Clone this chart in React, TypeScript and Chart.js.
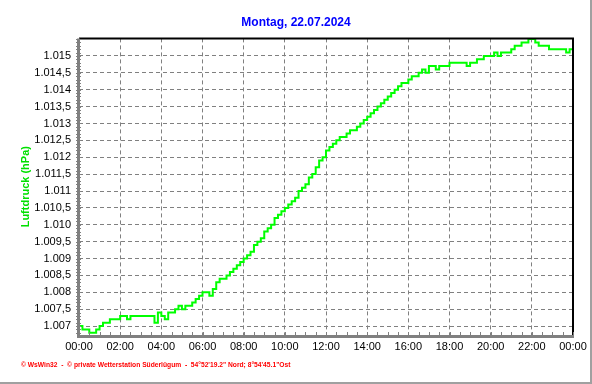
import React, { useEffect, useRef } from 'react';
import { Chart, registerables } from 'chart.js';

Chart.register(...registerables);

// minutes since midnight
const times: number[] = [
  0, 10, 20, 30, 40, 50,
  60, 70, 80, 90, 100, 110,
  120, 130, 140, 150, 160, 170,
  180, 190, 200, 210, 220, 230,
  240, 250, 260, 270, 280, 290,
  300, 310, 320, 330, 340, 350,
  360, 370, 380, 390, 400, 410,
  420, 430, 440, 450, 460, 470,
  480, 490, 500, 510, 520, 530,
  540, 550, 560, 570, 580, 590,
  600, 610, 620, 630, 640, 650,
  660, 670, 680, 690, 700, 710,
  720, 730, 740, 750, 760, 770,
  780, 790, 800, 810, 820, 830,
  840, 850, 860, 870, 880, 890,
  900, 910, 920, 930, 940, 950,
  960, 970, 980, 990, 1000, 1010,
  1020, 1030, 1040, 1050, 1060, 1070,
  1080, 1090, 1100, 1110, 1120, 1130,
  1140, 1150, 1160, 1170, 1180, 1190,
  1200, 1210, 1220, 1230, 1240, 1250,
  1260, 1270, 1280, 1290, 1300, 1310,
  1320, 1330, 1340, 1350, 1360, 1370,
  1380, 1390, 1400, 1410, 1420, 1430,
  1440,
];

// Luftdruck in hPa
const pressure: number[] = [
  1007.0, 1006.9, 1006.9, 1006.8, 1006.8, 1006.9,
  1007.0, 1007.1, 1007.1, 1007.2, 1007.2, 1007.2,
  1007.3, 1007.3, 1007.2, 1007.3, 1007.3, 1007.3,
  1007.3, 1007.3, 1007.3, 1007.3, 1007.1, 1007.4,
  1007.3, 1007.2, 1007.4, 1007.4, 1007.5, 1007.6,
  1007.5, 1007.6, 1007.6, 1007.7, 1007.8, 1007.9,
  1008.0, 1008.0, 1007.9, 1008.1, 1008.3, 1008.4,
  1008.4, 1008.5, 1008.6, 1008.7, 1008.8, 1008.9,
  1009.0, 1009.1, 1009.2, 1009.4, 1009.5, 1009.6,
  1009.8, 1009.9, 1010.0, 1010.2, 1010.3, 1010.4,
  1010.5, 1010.6, 1010.7, 1010.8, 1011.0, 1011.1,
  1011.2, 1011.4, 1011.5, 1011.7, 1011.9, 1012.0,
  1012.2, 1012.3, 1012.4, 1012.5, 1012.6, 1012.6,
  1012.7, 1012.8, 1012.8, 1012.9, 1013.0, 1013.1,
  1013.2, 1013.3, 1013.4, 1013.5, 1013.6, 1013.7,
  1013.8, 1013.9, 1014.0, 1014.1, 1014.2, 1014.2,
  1014.3, 1014.4, 1014.4, 1014.5, 1014.6, 1014.5,
  1014.7, 1014.7, 1014.6, 1014.7, 1014.7, 1014.7,
  1014.8, 1014.8, 1014.8, 1014.8, 1014.8, 1014.7,
  1014.8, 1014.8, 1014.9, 1014.9, 1015.0, 1015.0,
  1015.0, 1015.1, 1015.0, 1015.1, 1015.1, 1015.1,
  1015.2, 1015.3, 1015.3, 1015.4, 1015.4, 1015.5,
  1015.5, 1015.4, 1015.3, 1015.3, 1015.3, 1015.2,
  1015.2, 1015.2, 1015.2, 1015.2, 1015.1, 1015.2,
  1015.1,
];

const xTickValues: number[] = [0, 120, 240, 360, 480, 600, 720, 840, 960, 1080, 1200, 1320, 1440];
const xTickLabels: string[] = ['00:00', '02:00', '04:00', '06:00', '08:00', '10:00', '12:00', '14:00', '16:00', '18:00', '20:00', '22:00', '00:00'];

const yTickValues: number[] = [1007, 1007.5, 1008, 1008.5, 1009, 1009.5, 1010, 1010.5, 1011, 1011.5, 1012, 1012.5, 1013, 1013.5, 1014, 1014.5, 1015];
const yTickLabels: string[] = ['1.007', '1.007,5', '1.008', '1.008,5', '1.009', '1.009,5', '1.010', '1.010,5', '1.011', '1.011,5', '1.012', '1.012,5', '1.013', '1.013,5', '1.014', '1.014,5', '1.015'];

const titleText = 'Montag, 22.07.2024';
const yTitleText = 'Luftdruck (hPa)';
const footerText = '\u00A9 WsWin32  -  \u00A9 private Wetterstation S\u00FCderl\u00FCgum  -  54\u00B052\'19.2" Nord; 8\u00B054\'45.1"Ost';

const FONT = '"Liberation Sans", Arial, sans-serif';

const decorPlugin = {
  id: 'decor',
  afterDraw(chart: any) {
    const { ctx, chartArea: a, scales } = chart;
    const x = scales.x;
    const y = scales.y;
    ctx.save();
    // top and right frame
    ctx.strokeStyle = '#000000';
    ctx.lineWidth = 2;
    ctx.beginPath();
    ctx.moveTo(a.left, a.top);
    ctx.lineTo(a.right, a.top);
    ctx.lineTo(a.right, a.bottom);
    ctx.stroke();
    // gray axes
    ctx.strokeStyle = '#808080';
    ctx.lineWidth = 3;
    ctx.beginPath();
    ctx.moveTo(a.left - 0.5, a.top);
    ctx.lineTo(a.left - 0.5, a.bottom + 1.5);
    ctx.lineTo(a.right + 1, a.bottom + 1.5);
    ctx.stroke();
    // minor ticks x (every 30 min)
    ctx.lineWidth = 1;
    ctx.beginPath();
    for (let m = 0; m <= 1440; m += 30) {
      const px = Math.round(x.getPixelForValue(m)) + 0.5;
      ctx.moveTo(px, a.bottom - 3);
      ctx.lineTo(px, a.bottom + 3);
    }
    // minor ticks y (every 0.1 hPa)
    for (let i = 0; i < 90; i++) {
      const v = 1006.8 + i * 0.1;
      if (v > y.max || v < y.min) continue;
      const py = Math.round(y.getPixelForValue(v)) + 0.5;
      ctx.moveTo(a.left - 3, py);
      ctx.lineTo(a.left + 2, py);
    }
    ctx.stroke();
    // footer
    ctx.fillStyle = '#ff0000';
    ctx.font = 'bold 6.7px ' + FONT;
    ctx.textBaseline = 'middle';
    ctx.textAlign = 'left';
    ctx.fillText(footerText, 21, 365);
    // image border (right, bottom)
    ctx.fillStyle = '#a0a0a0';
    ctx.fillRect(590, 0, 2, 384);
    ctx.fillRect(0, 382, 592, 2);
    ctx.restore();
  },
};

export default function App() {
  const ref = useRef<HTMLCanvasElement>(null);

  useEffect(() => {
    document.body.style.margin = '0';
    const canvas = ref.current;
    if (!canvas) return;
    const chart = new Chart(canvas, {
      type: 'line',
      data: {
        datasets: [
          {
            label: yTitleText,
            data: times.map((t, i) => ({ x: t, y: pressure[i] })),
            borderColor: '#00ff00',
            borderWidth: 2,
            pointRadius: 0,
            stepped: true,
            fill: false,
          },
        ],
      },
      options: {
        animation: false,
        responsive: false,
        devicePixelRatio: 1,
        layout: { padding: { left: 19, right: 19, top: 0, bottom: 29 } },
        plugins: {
          legend: { display: false },
          tooltip: { enabled: false },
          title: {
            display: true,
            text: titleText,
            color: '#0000ff',
            font: { family: FONT, size: 12, weight: 'bold', lineHeight: 1.2 },
            padding: { top: 15, bottom: 9 },
          },
        },
        scales: {
          x: {
            type: 'linear',
            min: 0,
            max: 1440,
            afterBuildTicks: (s: any) => {
              s.ticks = xTickValues.map((v) => ({ value: v }));
            },
            afterFit: (s: any) => {
              s.height = 20;
            },
            ticks: {
              autoSkip: false,
              maxRotation: 0,
              padding: 5,
              color: '#000000',
              font: { family: FONT, size: 11 },
              callback: (v: any) => {
                const i = xTickValues.indexOf(Number(v));
                return i >= 0 ? xTickLabels[i] : '';
              },
            },
            grid: {
              drawTicks: false,
              color: (c: any) =>
                c.tick && (c.tick.value === 0 || c.tick.value === 1440) ? 'rgba(0,0,0,0)' : '#808080',
              lineWidth: 1,
            },
            border: { display: false, dash: [4, 3] },
          },
          y: {
            type: 'linear',
            min: 1006.735,
            max: 1015.52,
            afterBuildTicks: (s: any) => {
              s.ticks = yTickValues.map((v) => ({ value: v }));
            },
            afterFit: (s: any) => {
              s.width = 60;
            },
            ticks: {
              autoSkip: false,
              padding: 8,
              color: '#000000',
              font: { family: FONT, size: 11 },
              callback: (v: any) => {
                const i = yTickValues.findIndex((t) => Math.abs(t - Number(v)) < 1e-6);
                return i >= 0 ? yTickLabels[i] : '';
              },
            },
            grid: {
              drawTicks: false,
              color: '#808080',
              lineWidth: 1,
            },
            border: { display: false, dash: [4, 3] },
            title: {
              display: true,
              text: yTitleText,
              color: '#00e000',
              font: { family: FONT, size: 11, weight: 'bold', lineHeight: 1.2 },
              padding: { top: 0, bottom: 0 },
            },
          },
        },
      },
      plugins: [decorPlugin],
    });
    return () => chart.destroy();
  }, []);

  return (
    <div style={{ position: 'fixed', left: 0, top: 0, width: 592, height: 384, background: '#ffffff' }}>
      <canvas ref={ref} width={592} height={384} style={{ width: 592, height: 384, display: 'block' }} />
    </div>
  );
}
